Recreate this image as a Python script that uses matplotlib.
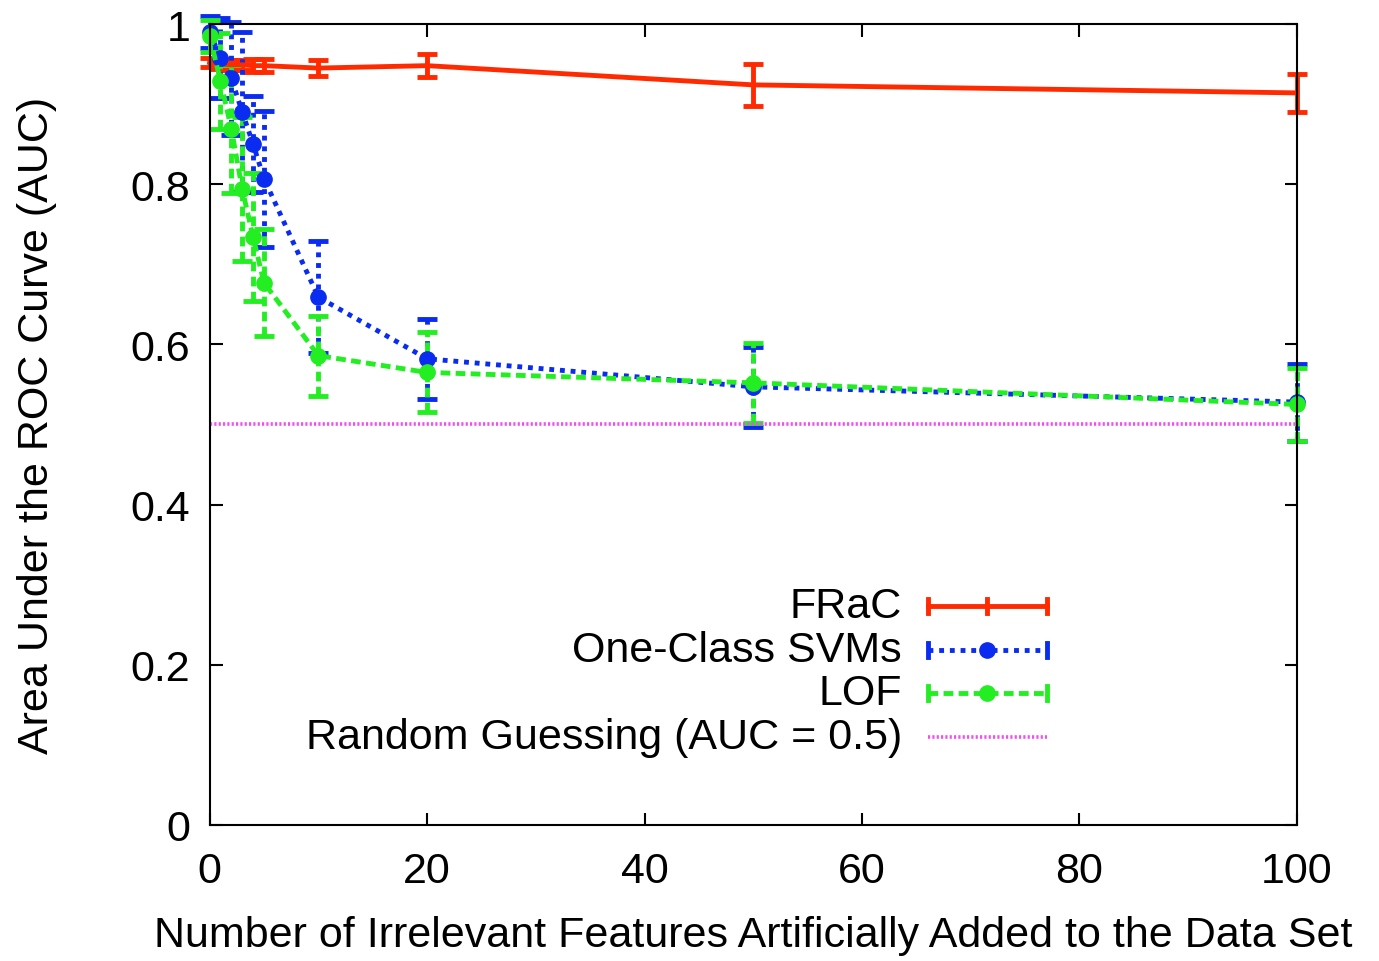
import numpy as np
import matplotlib
matplotlib.use("Agg")
import matplotlib.pyplot as plt
from matplotlib.lines import Line2D

plt.rcParams['font.family'] = ['Liberation Sans', 'DejaVu Sans']

# number of irrelevant features added
n_features = [0, 1, 2, 3, 4, 5, 10, 20, 50, 100]

frac_auc = [0.952, 0.950, 0.949, 0.949, 0.948, 0.948, 0.945, 0.948, 0.924, 0.914]
frac_err = [0.006, 0.006, 0.006, 0.006, 0.008, 0.008, 0.010, 0.014, 0.026, 0.024]

svm_auc = [0.990, 0.958, 0.932, 0.890, 0.850, 0.807, 0.659, 0.582, 0.547, 0.528]
svm_err = [0.020, 0.050, 0.070, 0.100, 0.060, 0.085, 0.070, 0.050, 0.050, 0.048]

lof_auc = [0.985, 0.929, 0.869, 0.794, 0.734, 0.677, 0.586, 0.565, 0.552, 0.525]
lof_err = [0.020, 0.060, 0.080, 0.090, 0.080, 0.067, 0.050, 0.050, 0.050, 0.045]

random_x = [0, 100]
random_auc = [0.5, 0.5]

labels = ["FRaC", "One-Class SVMs", "LOF", "Random Guessing (AUC = 0.5)"]

RED = "#ff2a00"
BLUE = "#0a2cf0"
GREEN = "#22ee22"
MAGENTA = "#f050f0"

FS = 31

fig = plt.figure(figsize=(13.79, 9.62), dpi=100)
ax = fig.add_axes([0.152, 0.1414, 0.7885, 0.8326])

lw = 3.5
dot_style = (0, (1, 1.2))
dash_style = (0, (2, 1.1))


def draw(x, y, err, color, ls, marker, ms):
    line, caps, bars = ax.errorbar(x, y, yerr=err, color=color, lw=lw, ls=ls,
                                   marker=marker, ms=ms, capsize=7.5, capthick=lw,
                                   elinewidth=lw, clip_on=False)
    line.set_clip_on(False)
    for b in bars:
        b.set_linestyle(ls)
        b.set_clip_on(False)
    for c in caps:
        c.set_clip_on(False)


draw(n_features, frac_auc, frac_err, RED, '-', None, 0)
draw(n_features, svm_auc, svm_err, BLUE, dot_style, 'o', 11)
draw(n_features, lof_auc, lof_err, GREEN, dash_style, 'o', 11)
ax.plot(random_x, random_auc, color=MAGENTA, lw=2.6, ls=(0, (0.6, 0.6)))

ax.set_xlim(0, 100)
ax.set_ylim(0, 1)
ax.set_xticks([0, 20, 40, 60, 80, 100])
ax.set_yticks([0, 0.2, 0.4, 0.6, 0.8, 1.0])
ax.set_yticklabels(["0", "0.2", "0.4", "0.6", "0.8", "1"])
ax.tick_params(direction='in', length=9, width=1.5, labelsize=FS,
               top=True, right=True)
ax.tick_params(axis='x', pad=19)
ax.tick_params(axis='y', pad=14)
for s in ax.spines.values():
    s.set_linewidth(1.5)

ax.set_xlabel("Number of Irrelevant Features Artificially Added to the Data Set",
              fontsize=FS, labelpad=17)
ax.set_ylabel("Area Under the ROC Curve (AUC)", fontsize=FS, labelpad=53)

# gnuplot style key: text right aligned, sample to the right
tr = ax.transAxes
x_text = (902 - 210) / 1087
x0, x1 = (928 - 210) / 1087, (1047 - 210) / 1087
xm = (x0 + x1) / 2
rows = [(826 - py) / 801 for py in (607, 651, 694, 738)]
styles = [(RED, '-', None), (BLUE, dot_style, 'o'), (GREEN, dash_style, 'o')]
for lab, yy in zip(labels, rows):
    ax.text(x_text, yy, lab, transform=tr, ha='right', va='center', fontsize=FS)
for (col, ls, mk), yy in zip(styles, rows[:3]):
    ax.add_line(Line2D([x0, x1], [yy, yy], transform=tr, color=col, lw=lw, ls=ls))
    for xe in (x0, x1):
        ax.add_line(Line2D([xe, xe], [yy - 0.009, yy + 0.009], transform=tr,
                           color=col, lw=lw))
    if mk:
        ax.add_line(Line2D([xm], [yy], transform=tr, color=col, marker=mk, ms=11))
    else:
        ax.add_line(Line2D([xm, xm], [yy - 0.009, yy + 0.009], transform=tr,
                           color=col, lw=lw))
ax.add_line(Line2D([x0, x1], [rows[3], rows[3]], transform=tr, color=MAGENTA,
                   lw=2.6, ls=(0, (0.6, 0.6))))

fig.savefig("out.png", dpi=100)
